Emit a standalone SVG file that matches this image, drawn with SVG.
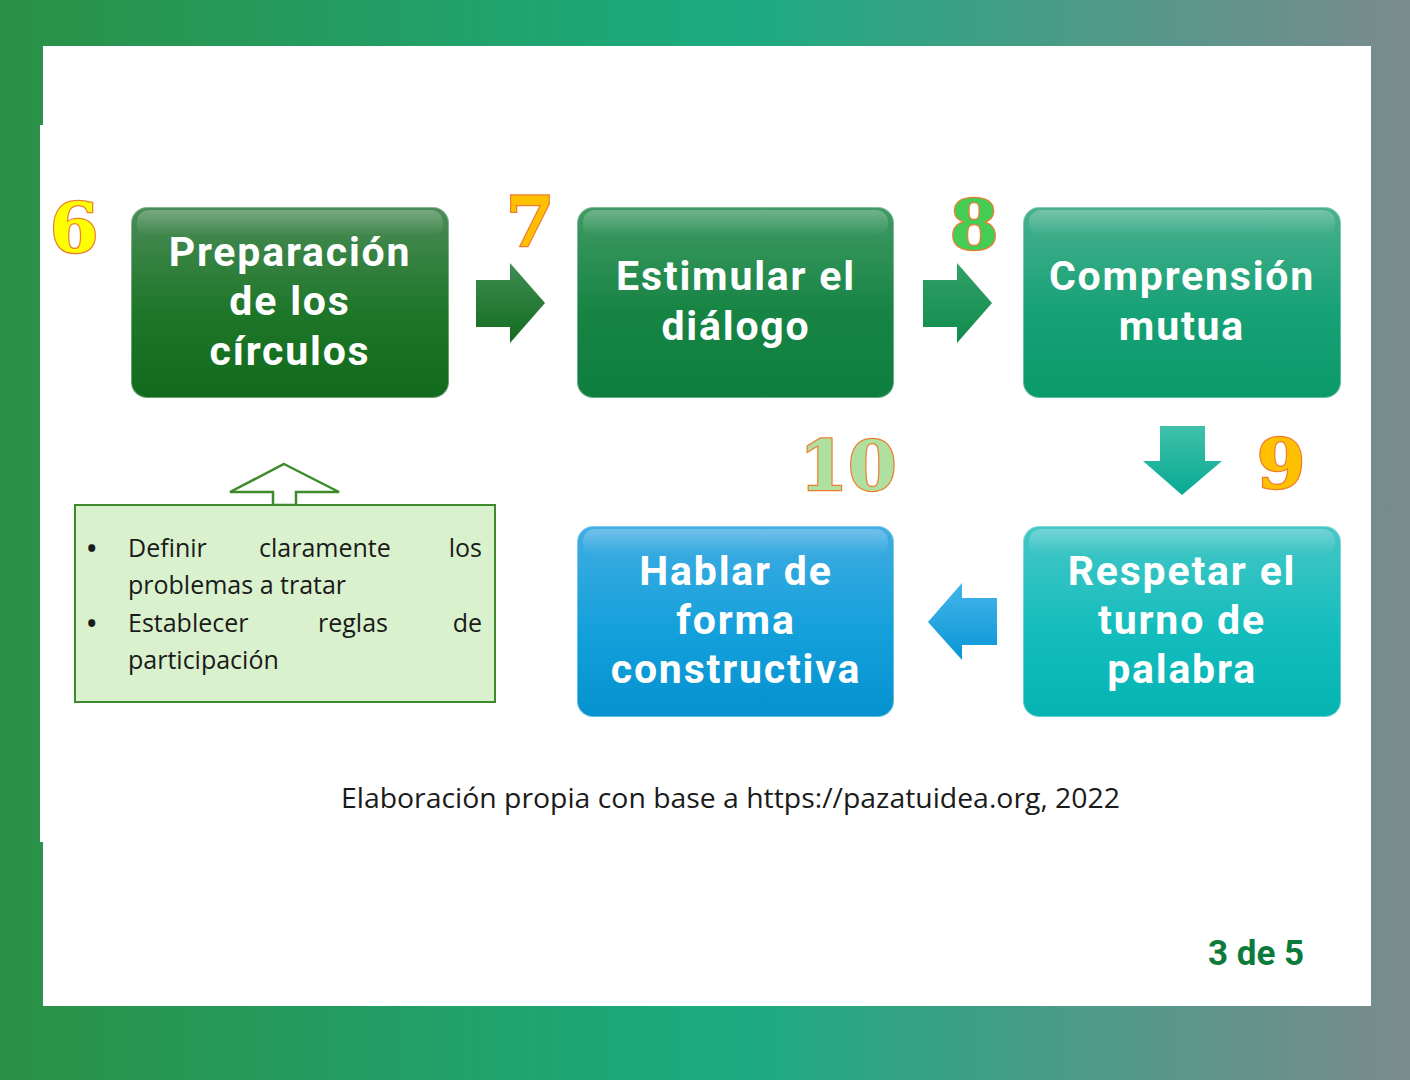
<svg xmlns="http://www.w3.org/2000/svg" width="1410" height="1080" viewBox="0 0 1410 1080">
<defs>
<linearGradient id="bg" x1="0" y1="0" x2="1" y2="0">
<stop offset="0" stop-color="#2b9046"/><stop offset="0.52" stop-color="#1bab80"/><stop offset="1" stop-color="#7b8b8e"/>
</linearGradient>
<linearGradient id="g1" x1="0" y1="0" x2="0" y2="1"><stop offset="0" stop-color="#4b8c58"/><stop offset="0.55" stop-color="#1e7629"/><stop offset="1" stop-color="#126a1c"/></linearGradient>
<linearGradient id="g2" x1="0" y1="0" x2="0" y2="1"><stop offset="0" stop-color="#409a64"/><stop offset="0.55" stop-color="#178444"/><stop offset="1" stop-color="#0e7e3e"/></linearGradient>
<linearGradient id="g3" x1="0" y1="0" x2="0" y2="1"><stop offset="0" stop-color="#48b08e"/><stop offset="0.55" stop-color="#17a176"/><stop offset="1" stop-color="#0a9a6a"/></linearGradient>
<linearGradient id="g4" x1="0" y1="0" x2="0" y2="1"><stop offset="0" stop-color="#46c6c6"/><stop offset="0.55" stop-color="#14bdbd"/><stop offset="1" stop-color="#05b3b3"/></linearGradient>
<linearGradient id="g5" x1="0" y1="0" x2="0" y2="1"><stop offset="0" stop-color="#42ade2"/><stop offset="0.55" stop-color="#14a0db"/><stop offset="1" stop-color="#0492cf"/></linearGradient>
<linearGradient id="a1" x1="0" y1="0" x2="0" y2="1"><stop offset="0" stop-color="#3d8d52"/><stop offset="1" stop-color="#136b1e"/></linearGradient>
<linearGradient id="a2" x1="0" y1="0" x2="0" y2="1"><stop offset="0" stop-color="#32a068"/><stop offset="1" stop-color="#0f8c4c"/></linearGradient>
<linearGradient id="a3" x1="0" y1="0" x2="0" y2="1"><stop offset="0" stop-color="#40c0aa"/><stop offset="1" stop-color="#08aa94"/></linearGradient>
<linearGradient id="a4" x1="0" y1="0" x2="0" y2="1"><stop offset="0" stop-color="#45b5ea"/><stop offset="1" stop-color="#0996d6"/></linearGradient>
<linearGradient id="hl" x1="0" y1="0" x2="0" y2="1"><stop offset="0" stop-color="#ffffff" stop-opacity="0.25"/><stop offset="1" stop-color="#ffffff" stop-opacity="0"/></linearGradient>
</defs>
<style>
.box{stroke:#ffffff;stroke-opacity:0.35;stroke-width:2}
.bt{font-family:Roboto,"Noto Sans",sans-serif;font-weight:700;font-size:41px;letter-spacing:1.8px;fill:#ffffff;text-anchor:middle}
.num{font-family:"DejaVu Serif","Liberation Serif",serif;font-weight:700;font-size:70px;stroke:#ed7d31;stroke-width:2.5;paint-order:stroke;text-anchor:middle}
.li{font-family:"Open Sans","Noto Sans",sans-serif;font-size:25px;fill:#1a1a1a}
.gloss{fill:url(#hl)}
</style>
<rect x="0" y="0" width="1410" height="1080" fill="url(#bg)"/>
<rect x="43" y="46" width="1328" height="960" fill="#ffffff"/>
<rect x="40" y="125" width="10" height="717" fill="#ffffff"/>

<g id="connectors">
<polygon points="476,280 510,280 510,263 545,303 510,343 510,327 476,327" fill="url(#a1)"/>
<polygon points="923,280 957,280 957,263 992,303 957,343 957,327 923,327" fill="url(#a2)"/>
<polygon points="1160,426 1205,426 1205,461 1222,461 1182,495 1143,461 1160,461" fill="url(#a3)"/>
<polygon points="928,622 962,583 962,598 997,598 997,645 962,645 962,660" fill="url(#a4)"/>
<polygon points="284,464 339,492 296,492 296,505 273,505 273,492 230,492" fill="#ffffff" stroke="#3e8a2a" stroke-width="2.5" stroke-linejoin="miter"/>
</g>

<g id="node-preparacion">
<rect class="box" x="131" y="207" width="318" height="191" rx="16" fill="url(#g1)"/>
<rect class="gloss" x="137" y="210" width="306" height="26" rx="12"/>
<text class="bt"><tspan x="290" y="266">Preparación</tspan><tspan x="290" y="315">de los</tspan><tspan x="290" y="365">círculos</tspan></text>
</g>
<g id="node-estimular">
<rect class="box" x="577" y="207" width="317" height="191" rx="16" fill="url(#g2)"/>
<rect class="gloss" x="583" y="210" width="305" height="26" rx="12"/>
<text class="bt"><tspan x="736" y="290">Estimular el</tspan><tspan x="736" y="340">diálogo</tspan></text>
</g>
<g id="node-comprension">
<rect class="box" x="1023" y="207" width="318" height="191" rx="16" fill="url(#g3)"/>
<rect class="gloss" x="1029" y="210" width="306" height="26" rx="12"/>
<text class="bt"><tspan x="1182" y="290">Comprensión</tspan><tspan x="1182" y="340">mutua</tspan></text>
</g>
<g id="node-respetar">
<rect class="box" x="1023" y="526" width="318" height="191" rx="16" fill="url(#g4)"/>
<rect class="gloss" x="1029" y="529" width="306" height="26" rx="12"/>
<text class="bt"><tspan x="1182" y="585">Respetar el</tspan><tspan x="1182" y="634">turno de</tspan><tspan x="1182" y="683">palabra</tspan></text>
</g>
<g id="node-hablar">
<rect class="box" x="577" y="526" width="317" height="191" rx="16" fill="url(#g5)"/>
<rect class="gloss" x="583" y="529" width="305" height="26" rx="12"/>
<text class="bt"><tspan x="736" y="585">Hablar de</tspan><tspan x="736" y="634">forma</tspan><tspan x="736" y="683">constructiva</tspan></text>
</g>

<g id="node-notes">
<rect x="75" y="505" width="420" height="197" fill="#d9f1cd" stroke="#3e8a2a" stroke-width="2"/>
<text class="li" x="87" y="557" font-weight="700">•</text>
<text class="li" x="128" y="557">Definir</text>
<text class="li" x="259" y="557">claramente</text>
<text class="li" x="482" y="557" text-anchor="end">los</text>
<text class="li" x="128" y="594">problemas a tratar</text>
<text class="li" x="87" y="632" font-weight="700">•</text>
<text class="li" x="128" y="632">Establecer</text>
<text class="li" x="318" y="632">reglas</text>
<text class="li" x="482" y="632" text-anchor="end">de</text>
<text class="li" x="128" y="669">participación</text>
</g>

<g id="numbers">
<text class="num" x="74" y="252" fill="#ffff00">6</text>
<text class="num" x="530" y="246" fill="#ffc000">7</text>
<text class="num" x="974" y="249" fill="#45cc55">8</text>
<text class="num" x="1281" y="488" fill="#ffc000">9</text>
<text class="num" x="848" y="490" fill="#b0e0a0">10</text>
</g>

<text x="341" y="808" font-family="Open Sans, Noto Sans, sans-serif" font-size="27" fill="#1a1a1a" textLength="779" lengthAdjust="spacingAndGlyphs">Elaboración propia con base a https://pazatuidea.org, 2022</text>
<text x="1256" y="965" font-family="Roboto, Noto Sans, sans-serif" font-weight="700" font-size="35" fill="#0b7a3a" text-anchor="middle">3 de 5</text>
</svg>
